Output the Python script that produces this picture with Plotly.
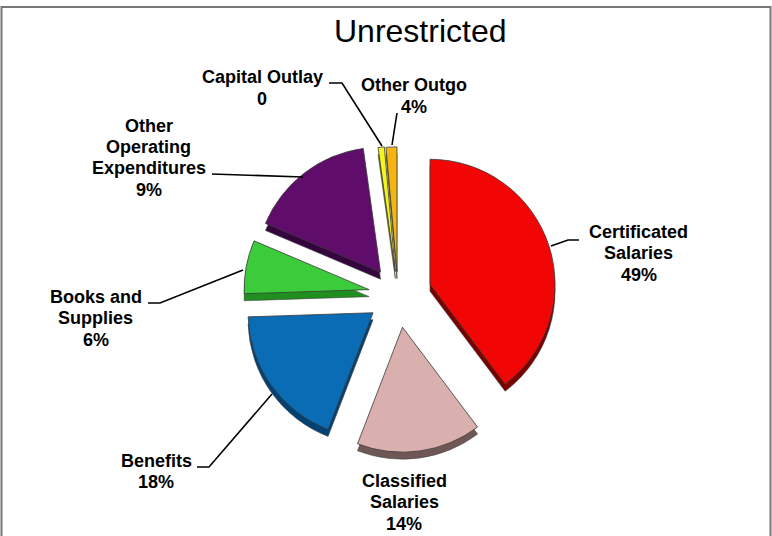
import plotly.graph_objects as go

W, H = 772, 536
categories = ["Certificated Salaries", "Classified Salaries", "Benefits", "Books and Supplies",
              "Other Operating Expenditures", "Capital Outlay", "Other Outgo"]
# slice shares as drawn in the picture
slice_values = [39.7, 16.1, 18.6, 6.9, 16.4, 0.8, 1.4]
printed_values = ["49%", "14%", "18%", "6%", "9%", "0", "4%"]
top_colors = ["#F20505", "#D9B0AE", "#0A6CB5", "#3BCB3B", "#5F0C6B", "#F5F51E", "#F5B511"]
side_colors = ["#7A0000", "#6F5756", "#044173", "#1F8F1F", "#35063D", "#7A7A00", "#8A6508"]
pull_amount = [0.27, 0.26, 0.245, 0.235, 0.23, 0.19, 0.185]

label_lines = [
    (["Certificated", "Salaries", "49%"], 638.5, [232, 253, 275]),
    (["Classified", "Salaries", "14%"], 404, [481, 502, 524]),
    (["Benefits", "18%"], 156, [461, 482]),
    (["Books and", "Supplies", "6%"], 95.5, [297, 318, 340]),
    (["Other", "Operating", "Expenditures", "9%"], 148.5, [126, 147, 168, 190]),
    (["Capital Outlay", "0"], 262, [77, 99]),
    (["Other Outgo", "4%"], 414, [85, 107]),
]
leaders = [
    [(551, 246), (568, 240), (579, 240)],
    [(272, 394), (209, 467), (197, 467)],
    [(243, 270), (160, 303), (148, 303)],
    [(303, 177), (212, 174)],
    [(382, 146), (342, 83), (329, 83)],
    [(392, 145), (397, 113)],
]

def px(x):
    return x / W

def py(y):
    return 1 - y / H

def domain(cx, cy, d):
    return dict(x=[px(cx - d / 2), px(cx + d / 2)], y=[py(cy + d / 2), py(cy - d / 2)])

D = 317.5
fig = go.Figure()
fig.add_trace(go.Pie(labels=categories, values=slice_values, sort=False, direction="clockwise", rotation=0,
                     pull=pull_amount, textinfo="none", hoverinfo="skip", showlegend=False,
                     domain=domain(398, 302, D),
                     marker=dict(colors=side_colors, line=dict(color="#444444", width=0.6))))
fig.add_trace(go.Pie(labels=categories, values=slice_values, sort=False, direction="clockwise", rotation=0,
                     pull=pull_amount, textinfo="none", showlegend=False,
                     domain=domain(398, 295, D),
                     marker=dict(colors=top_colors, line=dict(color="#3a3a3a", width=0.8))))

annotations = [dict(text="Unrestricted", x=px(420), y=py(31), xref="paper", yref="paper", showarrow=False,
                    font=dict(family="Liberation Sans", size=32, color="black"), xanchor="center", yanchor="middle")]
for lines, cx, ys in label_lines:
    for t, y in zip(lines, ys):
        annotations.append(dict(text=f"<b>{t}</b>", x=px(cx), y=py(y), xref="paper", yref="paper", showarrow=False,
                                font=dict(family="Liberation Sans", size=18, color="black"),
                                xanchor="center", yanchor="middle"))

shapes = []
for pts in leaders:
    path = "M " + " L ".join(f"{px(x)} {py(y)}" for x, y in pts)
    shapes.append(dict(type="path", path=path, xref="paper", yref="paper", line=dict(color="black", width=1.6)))
# chart frame: top, left and right only
frame = [(1.5, 536), (1.5, 7), (770.5, 7), (770.5, 536)]
shapes.append(dict(type="path", path="M " + " L ".join(f"{px(x)} {py(y)}" for x, y in frame),
                   xref="paper", yref="paper", line=dict(color="#777777", width=2)))

fig.update_layout(width=W, height=H, margin=dict(l=0, r=0, t=0, b=0), paper_bgcolor="white",
                  annotations=annotations, shapes=shapes)
fig.write_html("out.html", config={"displayModeBar": False},
               post_script="document.body.style.margin='0';document.documentElement.style.overflow='hidden';")
